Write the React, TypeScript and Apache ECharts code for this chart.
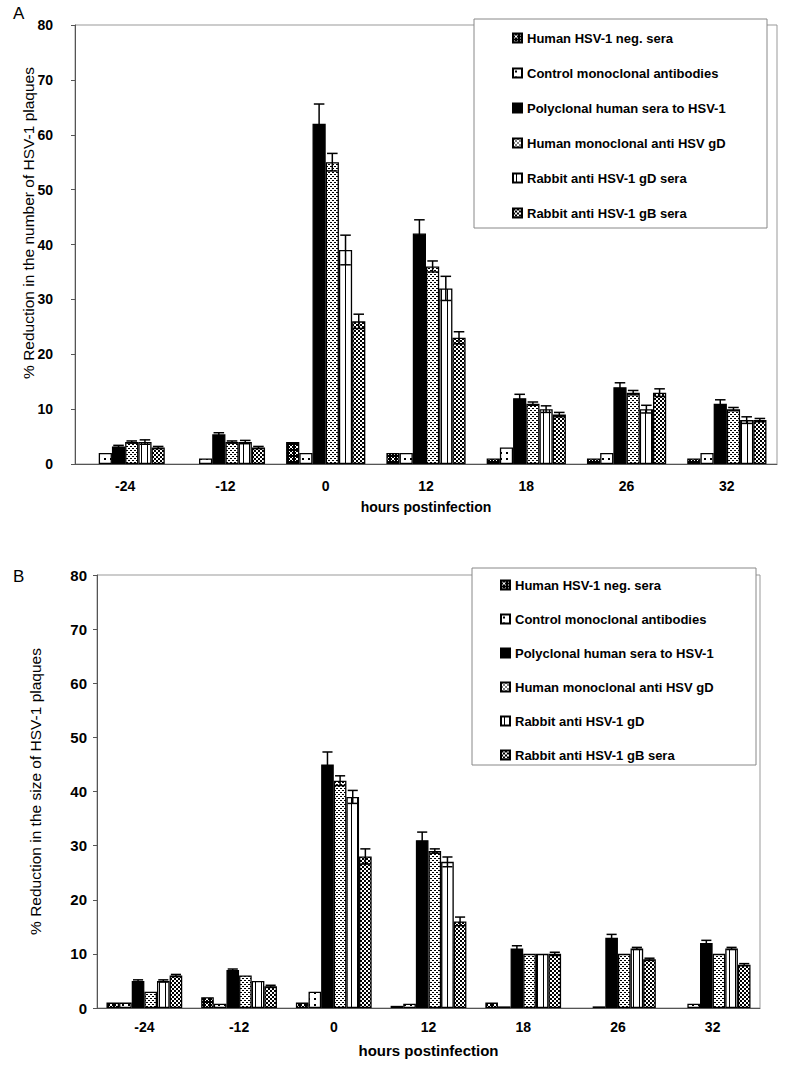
import React, { useEffect, useRef } from 'react';
import * as echarts from 'echarts';

const hours = ['-24', '-12', '0', '12', '18', '26', '32'];

const namesA = [
  'Human HSV-1 neg. sera',
  'Control monoclonal antibodies',
  'Polyclonal human sera to HSV-1',
  'Human monoclonal anti HSV gD',
  'Rabbit anti HSV-1 gD sera',
  'Rabbit anti HSV-1 gB sera',
];
const namesB = [
  'Human HSV-1 neg. sera',
  'Control monoclonal antibodies',
  'Polyclonal human sera to HSV-1',
  'Human monoclonal anti HSV gD',
  'Rabbit anti HSV-1 gD',
  'Rabbit anti HSV-1 gB sera',
];

const yTitleA = '% Reduction in the number of HSV-1 plaques';
const yTitleB = '% Reduction in the size of HSV-1 plaques';
const xTitle = 'hours postinfection';

// Panel A: % reduction in the number of HSV-1 plaques
const aNegSera = [0, 0, 4, 2, 1, 1, 1];
const aControlMab = [2, 1, 2, 2, 3, 2, 2];
const aPolyclonal = [3.2, 5.4, 62, 42, 12, 14, 11];
const aHumanMabGD = [4, 4, 55, 36, 11, 13, 10];
const aRabbitGD = [4, 4, 39, 32, 10, 10, 8];
const aRabbitGB = [3, 3, 26, 23, 9, 13, 8];
const aNegSeraErr = [0, 0, 0, 0, 0, 0, 0];
const aControlMabErr = [0, 0, 0, 0, 0, 0, 0];
const aPolyclonalErr = [0.2, 0.3, 3.6, 2.5, 0.7, 0.8, 0.7];
const aHumanMabGDErr = [0.2, 0.2, 1.6, 1.0, 0.3, 0.4, 0.3];
const aRabbitGDErr = [0.4, 0.3, 2.7, 2.2, 0.6, 0.7, 0.6];
const aRabbitGBErr = [0.2, 0.2, 1.3, 1.1, 0.4, 0.7, 0.3];

// Panel B: % reduction in the size of HSV-1 plaques
const bNegSera = [1, 2, 1, 0.4, 1, 0, 0];
const bControlMab = [1, 0.8, 3, 0.8, 0.3, 0.3, 0.8];
const bPolyclonal = [5, 7, 45, 31, 11, 13, 12];
const bHumanMabGD = [3, 6, 42, 29, 10, 10, 10];
const bRabbitGD = [5, 5, 39, 27, 10, 11, 11];
const bRabbitGB = [6, 4, 28, 16, 10, 9, 8];
const bNegSeraErr = [0, 0, 0, 0, 0, 0, 0];
const bControlMabErr = [0, 0, 0, 0, 0, 0, 0];
const bPolyclonalErr = [0.2, 0.2, 2.3, 1.5, 0.5, 0.6, 0.5];
const bHumanMabGDErr = [0, 0, 0.9, 0.4, 0, 0, 0];
const bRabbitGDErr = [0.2, 0, 1.2, 0.9, 0, 0.2, 0.2];
const bRabbitGBErr = [0.2, 0.2, 1.4, 0.8, 0.3, 0.2, 0.2];

const yTicks = [0, 80, 10]; // min, max, interval

const FONT = "'Liberation Sans', Arial, Helvetica, sans-serif";

function makePattern(kind: string): any {
  const c = document.createElement('canvas');
  let w = 6;
  let h = 6;
  if (kind === 'dots' || kind === 'checker') { w = 4; h = 4; }
  if (kind === 'stripes') { w = 6; h = 2; }
  c.width = w;
  c.height = h;
  const g = c.getContext('2d')!;
  g.fillStyle = '#fff';
  g.fillRect(0, 0, w, h);
  g.fillStyle = '#000';
  if (kind === 'cross') {
    g.fillRect(0, 0, w, h);
    g.fillStyle = '#fff';
    const px = [[1, 1], [2, 2], [3, 3], [4, 4], [4, 1], [3, 2], [2, 3], [1, 4]];
    px.forEach(([x, y]) => g.fillRect(x, y, 1, 1));
  } else if (kind === 'sparse') {
    g.fillRect(2, 2, 2, 2);
  } else if (kind === 'dots') {
    g.fillRect(0, 0, 2, 1);
    g.fillRect(2, 2, 2, 1);
  } else if (kind === 'stripes') {
    g.fillRect(3, 0, 1, h);
  } else if (kind === 'checker') {
    g.fillRect(0, 0, 2, 2);
    g.fillRect(2, 2, 2, 2);
  }
  return { image: c, repeat: 'repeat', imageWidth: w, imageHeight: h };
}

function buildOption() {
  const fills = [
    makePattern('cross'),
    makePattern('sparse'),
    '#000',
    makePattern('dots'),
    makePattern('stripes'),
    makePattern('checker'),
  ];

  const panels = [
    {
      names: namesA,
      values: [aNegSera, aControlMab, aPolyclonal, aHumanMabGD, aRabbitGD, aRabbitGB],
      errs: [aNegSeraErr, aControlMabErr, aPolyclonalErr, aHumanMabGDErr, aRabbitGDErr, aRabbitGBErr],
      gap: 0.21,
    },
    {
      names: namesB,
      values: [bNegSera, bControlMab, bPolyclonal, bHumanMabGD, bRabbitGD, bRabbitGB],
      errs: [bNegSeraErr, bControlMabErr, bPolyclonalErr, bHumanMabGDErr, bRabbitGDErr, bRabbitGBErr],
      gap: 0.2,
    },
  ];

  const series: any[] = [];
  panels.forEach((p, gi) => {
    p.values.forEach((vals, s) => {
      series.push({
        type: 'bar',
        name: p.names[s],
        xAxisIndex: gi,
        yAxisIndex: gi,
        barGap: '0%',
        barCategoryGap: `${Math.round(p.gap * 100)}%`,
        data: vals.map((v) => (v === 0 ? '-' : v)),
        itemStyle: { color: fills[s], borderColor: '#000', borderWidth: 1.3 },
        emphasis: { disabled: true },
      });
    });
    const data: number[][] = [];
    p.values.forEach((vals, s) =>
      vals.forEach((v, c) => {
        const e = p.errs[s][c];
        if (e > 0) data.push([c, v, e, s]);
      })
    );
    const gapRatio = p.gap;
    series.push({
      type: 'custom',
      name: 'err' + gi,
      xAxisIndex: gi,
      yAxisIndex: gi,
      z: 10,
      silent: true,
      encode: { x: 0, y: 1 },
      data,
      renderItem: (params: any, api: any) => {
        const c = api.value(0);
        const v = api.value(1);
        const e = api.value(2);
        const s = api.value(3);
        const catW = api.size([1, 0])[0];
        const groupW = catW * (1 - gapRatio);
        const bw = groupW / 6;
        const center = api.coord([c, v]);
        const x = center[0] - groupW / 2 + (s + 0.5) * bw;
        const yTop = api.coord([c, v + e])[1];
        const yBot = api.coord([c, Math.max(v - e, 0)])[1];
        const cap = bw * 0.4;
        const st = { stroke: '#000', lineWidth: 1.5 };
        return {
          type: 'group',
          children: [
            { type: 'line', shape: { x1: x, y1: yTop, x2: x, y2: yBot }, style: st },
            { type: 'line', shape: { x1: x - cap, y1: yTop, x2: x + cap, y2: yTop }, style: st },
            { type: 'line', shape: { x1: x - cap, y1: yBot, x2: x + cap, y2: yBot }, style: st },
          ],
        };
      },
    });
  });

  const axisLabelStyle = { fontFamily: FONT, fontWeight: 'bold' as const, color: '#000' };

  return {
    animation: false,
    backgroundColor: '#fff',
    grid: [
      { left: 75, right: 8, top: 25, bottom: 603, show: true, borderColor: '#999', borderWidth: 1 },
      { left: 97, right: 25, top: 575, bottom: 59, show: true, borderColor: '#999', borderWidth: 1 },
    ],
    xAxis: [
      {
        type: 'category', gridIndex: 0, data: hours,
        axisLine: { lineStyle: { color: '#555', width: 1 } },
        axisTick: { show: false },
        axisLabel: { ...axisLabelStyle, fontSize: 14, margin: 15 },
        name: xTitle, nameLocation: 'middle', nameGap: 36, nameMoveOverlap: false,
        nameTextStyle: { ...axisLabelStyle, fontSize: 14 },
      },
      {
        type: 'category', gridIndex: 1, data: hours,
        axisLine: { lineStyle: { color: '#555', width: 1 } },
        axisTick: { show: false },
        axisLabel: { ...axisLabelStyle, fontSize: 14, margin: 12 },
        name: xTitle, nameLocation: 'middle', nameGap: 35, nameMoveOverlap: false,
        nameTextStyle: { ...axisLabelStyle, fontSize: 15 },
      },
    ],
    yAxis: [
      {
        type: 'value', gridIndex: 0, min: yTicks[0], max: yTicks[1], interval: yTicks[2],
        splitLine: { show: false },
        axisLine: { show: true, lineStyle: { color: '#555', width: 1 } },
        axisTick: { show: true, inside: false, length: 4, lineStyle: { color: '#555' } },
        axisLabel: { ...axisLabelStyle, fontSize: 14, margin: 22 },
      },
      {
        type: 'value', gridIndex: 1, min: yTicks[0], max: yTicks[1], interval: yTicks[2],
        splitLine: { show: false },
        axisLine: { show: true, lineStyle: { color: '#555', width: 1 } },
        axisTick: { show: true, inside: false, length: 4, lineStyle: { color: '#555' } },
        axisLabel: { ...axisLabelStyle, fontSize: 15, margin: 10 },
        name: yTitleB, nameLocation: 'middle', nameGap: 54, nameRotate: 90,
        nameMoveOverlap: false,
        nameTextStyle: { fontFamily: FONT, fontSize: 15.5, color: '#000' },
      },
    ],
    legend: [
      {
        orient: 'vertical', left: 512, top: 31, padding: 0, itemGap: 21, z: 20,
        icon: 'rect', itemWidth: 9, itemHeight: 9, selectedMode: false, data: namesA,
        textStyle: { fontFamily: FONT, fontWeight: 'bold', fontSize: 13, lineHeight: 14, color: '#000' },
      },
      {
        orient: 'vertical', left: 500, top: 578, padding: 0, itemGap: 20, z: 20,
        icon: 'rect', itemWidth: 9, itemHeight: 9, selectedMode: false, data: namesB,
        textStyle: { fontFamily: FONT, fontWeight: 'bold', fontSize: 13, lineHeight: 14, color: '#000' },
      },
    ],
    graphic: [
      { type: 'rect', z: 15, shape: { x: 474, y: 19, width: 293, height: 209 }, style: { fill: '#fff', stroke: '#888', lineWidth: 1 } },
      { type: 'rect', z: 15, shape: { x: 472, y: 568, width: 284, height: 197 }, style: { fill: '#fff', stroke: '#888', lineWidth: 1 } },
      { type: 'text', left: 13, top: 5, z: 15, style: { text: 'A', fontFamily: FONT, fontSize: 17, fill: '#000' } },
      { type: 'text', left: 13, top: 568, z: 15, style: { text: 'B', fontFamily: FONT, fontSize: 17, fill: '#000' } },
      {
        type: 'text', x: 28, y: 223, rotation: Math.PI / 2, z: 15,
        style: { text: yTitleA, fontFamily: FONT, fontSize: 15.5, fill: '#000', align: 'center', verticalAlign: 'middle' },
      },
    ],
    series,
  };
}

export default function App() {
  const ref = useRef<HTMLDivElement>(null);
  useEffect(() => {
    if (!ref.current) return;
    const chart = echarts.init(ref.current, undefined, { renderer: 'svg' });
    chart.setOption(buildOption() as any);
    return () => chart.dispose();
  }, []);
  return (
    <div
      ref={ref}
      style={{ position: 'absolute', left: 0, top: 0, width: 785, height: 1067, background: '#fff' }}
    />
  );
}
